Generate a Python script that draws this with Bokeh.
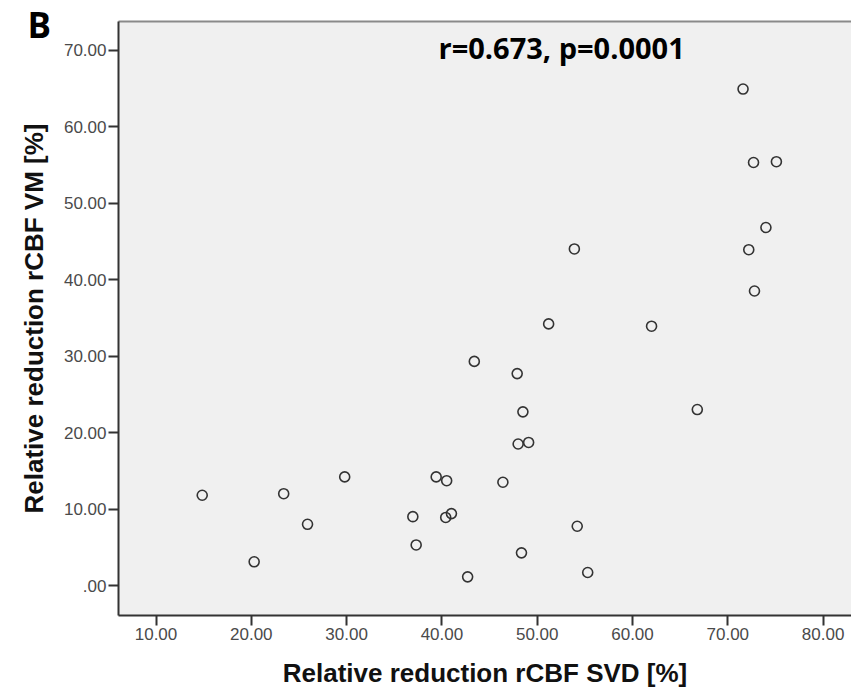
from bokeh.plotting import figure
from bokeh.models import Range1d, FixedTicker, Label, LinearAxis, ColumnDataSource
from bokeh.embed import file_html
from bokeh.resources import INLINE

# Relative reduction of rCBF per subject (%)
svd_reduction = [71.6, 72.7, 75.1, 74.0, 53.9, 72.2, 72.8, 51.2, 62.0, 43.4,
                 47.9, 48.5, 66.8, 48.0, 49.1, 39.4, 40.5, 46.4, 36.95, 40.4,
                 41.0, 54.2, 37.3, 48.35, 55.3, 42.7, 14.85, 23.4, 29.8, 25.9,
                 20.3]
vm_reduction = [64.9, 55.3, 55.4, 46.8, 44.0, 43.9, 38.5, 34.2, 33.9, 29.3,
                27.7, 22.7, 23.0, 18.5, 18.7, 14.2, 13.7, 13.5, 9.0, 8.9,
                9.4, 7.75, 5.3, 4.27, 1.7, 1.13, 11.8, 12.0, 14.2, 8.0,
                3.1]

x_ticks = [10, 20, 30, 40, 50, 60, 70, 80]
x_tick_labels = ["10.00", "20.00", "30.00", "40.00", "50.00", "60.00", "70.00", "80.00"]
y_ticks = [0, 10, 20, 30, 40, 50, 60, 70]
y_tick_labels = [".00", "10.00", "20.00", "30.00", "40.00", "50.00", "60.00", "70.00"]

panel_letter = "B"
stats_text = "r=0.673, p=0.0001"
x_title = "Relative reduction rCBF SVD [%]"
y_title = "Relative reduction rCBF VM [%]"

source = ColumnDataSource(data=dict(x=svd_reduction, y=vm_reduction))

p = figure(width=851, height=693, output_backend="svg", toolbar_location=None,
           x_range=Range1d(6.065, 82.98), y_range=Range1d(-3.92, 73.73),
           min_border_left=118, min_border_right=0, min_border_top=21,
           min_border_bottom=78)

p.background_fill_color = "#f0f0f0"
p.border_fill_color = "white"
p.outline_line_color = None
p.grid.visible = False

# panel letter in the top-left corner
p.title.text = panel_letter
p.title.align = "left"
p.title.offset = -91
p.title.standoff = -52
p.title.vertical_align = "bottom"
p.title.text_font = "Open Sans"
p.title.text_font_style = "bold"
p.title.text_font_size = "35px"
p.title.text_color = "black"

tick_font = "Liberation Sans"
for ax, ticks, labels in ((p.xaxis[0], x_ticks, x_tick_labels),
                          (p.yaxis[0], y_ticks, y_tick_labels)):
    ax.ticker = FixedTicker(ticks=ticks)
    ax.major_label_overrides = {float(t): s for t, s in zip(ticks, labels)}
    ax.minor_tick_line_color = None
    ax.major_tick_in = 0
    ax.major_tick_out = 10
    ax.major_tick_line_color = "#333333"
    ax.major_tick_line_width = 2
    ax.axis_line_color = "#333333"
    ax.axis_line_width = 2
    ax.major_label_text_font = tick_font
    ax.major_label_text_font_size = "17px"
    ax.major_label_text_color = "#4a4a4a"
    ax.major_label_standoff = 2
    ax.axis_label_text_font = tick_font
    ax.axis_label_text_font_style = "bold"
    ax.axis_label_text_font_size = "26px"
    ax.axis_label_text_color = "#111111"

p.xaxis[0].axis_label = x_title
p.xaxis[0].axis_label_standoff = 15
p.yaxis[0].axis_label = y_title
p.yaxis[0].axis_label_standoff = 12

# thin grey rule along the top of the plotting area
top_axis = LinearAxis(major_tick_line_color=None, minor_tick_line_color=None,
                      major_label_text_font_size="0px", axis_line_color="#8a8a8a",
                      axis_line_width=2, ticker=FixedTicker(ticks=[]))
p.add_layout(top_axis, "above")

p.scatter("x", "y", source=source, size=10, marker="circle",
          fill_color=None, line_color="#333333", line_width=1.6)

p.add_layout(Label(x=320, y=568, x_units="screen", y_units="screen",
                   text=stats_text, text_font="Open Sans", text_font_style="bold",
                   text_font_size="29px", text_color="black",
                   text_baseline="alphabetic"))

open("out.html", "w").write(file_html(p, INLINE))
